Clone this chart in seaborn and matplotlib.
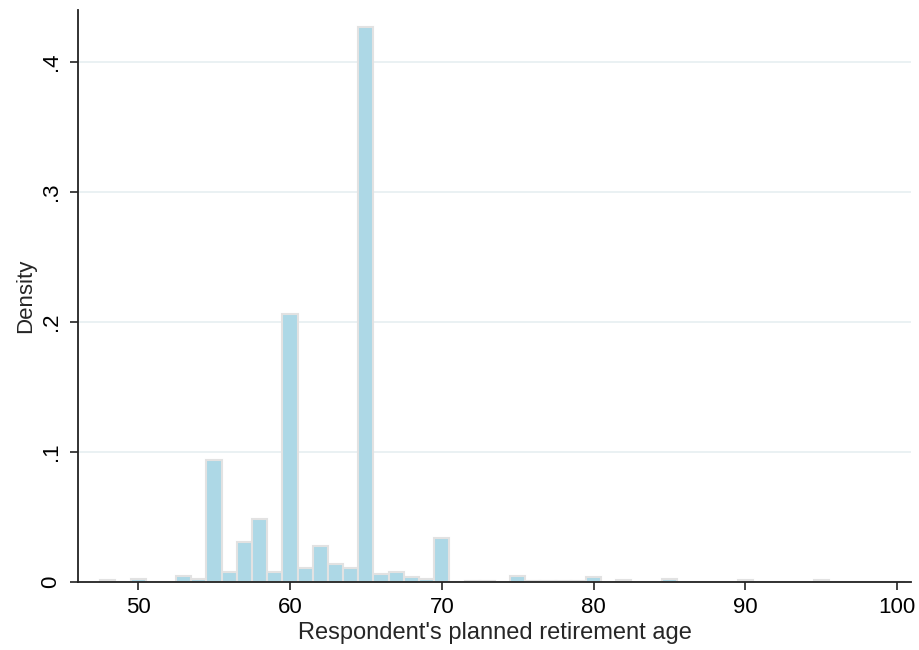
import pandas as pd
import seaborn as sns
import matplotlib.pyplot as plt

# planned retirement age and its histogram density
ages = [48, 50, 53, 54, 55, 56, 57, 58, 59, 60, 61, 62, 63, 64, 65, 66, 67, 68, 69, 70,
        72, 73, 75, 76, 77, 78, 79, 80, 82, 85, 90, 95]
density = [0.001, 0.002, 0.0045, 0.002, 0.0934, 0.0074, 0.0307, 0.0479, 0.0074, 0.206,
           0.0105, 0.0276, 0.0138, 0.0105, 0.4265, 0.0059, 0.0077, 0.0034, 0.002, 0.0338,
           0.0005, 0.0005, 0.0046, 0.0004, 0.0004, 0.0004, 0.0004, 0.0038, 0.001, 0.002,
           0.001, 0.001]
x_ticks = [50, 60, 70, 80, 90, 100]
y_ticks = [0, 0.1, 0.2, 0.3, 0.4]
y_tick_labels = ["0", ".1", ".2", ".3", ".4"]

df = pd.DataFrame({"age": ages, "density": density})

sns.set_style("white")
plt.rcParams['font.family'] = ['Liberation Sans', 'DejaVu Sans']

fig = plt.figure(figsize=(9.2, 6.5), dpi=100)
ax = fig.add_axes([0.085, 0.105, 0.905, 0.88])

for y in y_ticks[1:]:
    ax.axhline(y, color="#e6eff1", lw=1.2, zorder=0)

sns.histplot(data=df, x="age", weights="density", binwidth=1, binrange=(47.5, 100.5),
             stat="count", color="#add8e6", edgecolor="#e2e2e2", linewidth=1.5,
             alpha=1, ax=ax)

ax.set_xlim(46.05, 100.9)
ax.set_ylim(0, 0.44)
ax.set_xticks(x_ticks)
ax.set_yticks(y_ticks)
ax.set_yticklabels(y_tick_labels)
ax.tick_params(axis="y", labelrotation=90)
for lab in ax.get_yticklabels():
    lab.set_va("center")
ax.tick_params(axis="both", direction="out", length=6, width=1.2, colors="#222222",
               labelsize=16, labelcolor="black", pad=5, left=True, bottom=True)
ax.tick_params(axis="y", pad=6)

sns.despine(ax=ax)
for side in ["left", "bottom"]:
    ax.spines[side].set_color("#222222")
    ax.spines[side].set_linewidth(1.3)

ax.set_xlabel("Respondent's planned retirement age", fontsize=17, labelpad=3)
ax.set_ylabel("Density", fontsize=16, labelpad=3)

plt.savefig("out.png", dpi=100)
